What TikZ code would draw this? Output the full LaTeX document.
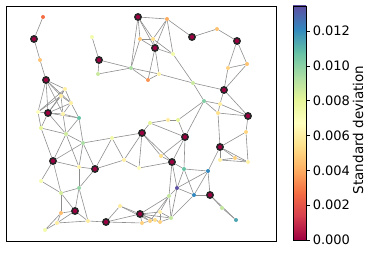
\documentclass[tikz,border=0pt]{standalone}
\usepackage{fontspec}
\setmainfont{DejaVu Sans}
\usetikzlibrary{backgrounds}
\definecolor{s0}{HTML}{9E0142}
\definecolor{s1}{HTML}{D53E4F}
\definecolor{s2}{HTML}{F46D43}
\definecolor{s3}{HTML}{FDAE61}
\definecolor{s4}{HTML}{FEE08B}
\definecolor{s5}{HTML}{FFFFBF}
\definecolor{s6}{HTML}{E6F598}
\definecolor{s7}{HTML}{ABDDA4}
\definecolor{s8}{HTML}{66C2A5}
\definecolor{s9}{HTML}{3288BD}
\definecolor{s10}{HTML}{5E4FA2}
\definecolor{linkgrey}{HTML}{8E8E8E}
\tikzset{
  every picture/.style={line width=0.6pt},
  link/.style={draw=linkgrey, line width=0.6pt},
  fixed/.style={circle, fill=s0, draw=black!85, line width=1.6pt, inner sep=0pt, minimum size=6.2pt},
  est/.style={circle, fill=#1, inner sep=0pt, minimum size=4pt},
  ticklabel/.style={font=\fontsize{13}{15}\selectfont, anchor=west, inner sep=0pt},
}
\begin{document}
\begin{tikzpicture}[x=1pt, y=-1pt]
  \useasboundingbox (0,0) rectangle (374,256);
  \draw[line width=0.8pt] (6,6) rectangle (276,241);
  % fixed nodes
  \node[fixed] (a1) at (34,39) {};   \node[fixed] (a2) at (46,80) {};
  \node[fixed] (a3) at (48,113) {};  \node[fixed] (a4) at (53,161) {};
  \node[fixed] (a5) at (95,169) {};  \node[fixed] (a6) at (75,211) {};
  \node[fixed] (a7) at (106,222) {}; \node[fixed] (a8) at (140,214) {};
  \node[fixed] (a9) at (142,133) {}; \node[fixed] (a10) at (185,137) {};
  \node[fixed] (a11) at (172,162) {};\node[fixed] (a12) at (210,195) {};
  \node[fixed] (a13) at (220,147) {};\node[fixed] (a14) at (248,116) {};
  \node[fixed] (a15) at (224,90) {}; \node[fixed] (a16) at (237,41) {};
  \node[fixed] (a17) at (192,37) {}; \node[fixed] (a18) at (155,48) {};
  \node[fixed] (a19) at (138,17) {}; \node[fixed] (a20) at (99,60) {};
  % estimated nodes
  \node[est=s2] (u1) at (43,17) {};
  \node[est=s3!60!s4] (u2) at (40,60) {};
  \node[est=s5!50!s4] (u3) at (65,89) {};
  \node[est=s4!60!s5] (u4) at (61,96) {};
  \node[est=s4!50!s5] (u5) at (71,103) {};
  \node[est=s5] (u6) at (38,112) {};
  \node[est=s4!40!s5] (u7) at (63,114) {};
  \node[est=s8] (u8) at (79,118) {};
  \node[est=s6] (u9) at (41,128) {};
  \node[est=s6!60!s7] (u10) at (66,134) {};
  \node[est=s7] (u11) at (83,143) {};
  \node[est=s5!50!s6] (u12) at (92,37) {};
  \node[est=s6!50!s7] (u13) at (98,74) {};
  \node[est=s7] (u14) at (131,68) {};
  \node[est=s2!40!s3] (u15) at (148,80) {};
  \node[est=s3!50!s4] (u16) at (140,39) {};
  \node[est=s4] (u17) at (153,39) {};
  \node[est=s3] (u18) at (167,19) {};
  \node[est=s5!50!s6] (u19) at (173,54) {};
  \node[est=s4!40!s5] (u20) at (159,74) {};
  \node[est=s3!60!s4] (u21) at (217,29) {};
  \node[est=s4!70!s3] (u22) at (228,68) {};
  \node[est=s3!60!s4] (u23) at (247,64) {};
  \node[est=s6!50!s7] (u24) at (193,83) {};
  \node[est=s7!40!s8] (u25) at (204,101) {};
  \node[est=s5!40!s4] (u26) at (220,104) {};
  \node[est=s4] (u27) at (218,113) {};
  \node[est=s6] (u28) at (150,123) {};
  \node[est=s4!60!s5] (u29) at (168,120) {};
  \node[est=s6] (u30) at (178,120) {};
  \node[est=s5!40!s6] (u31) at (112,138) {};
  \node[est=s5!50!s4] (u32) at (124,160) {};
  \node[est=s5] (u33) at (139,168) {};
  \node[est=s4] (u34) at (161,156) {};
  \node[est=s4!80!s3] (u35) at (246,132) {};
  \node[est=s4!50!s5] (u36) at (220,160) {};
  \node[est=s4!70!s3] (u37) at (235,158) {};
  \node[est=s5!60!s4] (u38) at (248,162) {};
  \node[est=s4!40!s5] (u39) at (79,167) {};
  \node[est=s5!60!s6] (u40) at (41,181) {};
  \node[est=s6!70!s7] (u41) at (61,193) {};
  \node[est=s7!70!s8] (u42) at (79,188) {};
  \node[est=s3!70!s4] (u43) at (61,213) {};
  \node[est=s4!60!s5] (u44) at (88,221) {};
  \node[est=s4!60!s5] (u45) at (57,223) {};
  \node[est=s5!50!s6] (u46) at (45,230) {};
  \node[est=s4!60!s5] (u47) at (120,206) {};
  \node[est=s4!70!s3] (u48) at (142,223) {};
  \node[est=s4!70!s3] (u49) at (150,221) {};
  \node[est=s4] (u50) at (155,220) {};
  \node[est=s4!50!s5] (u51) at (160,212) {};
  \node[est=s4!70!s3] (u52) at (160,222) {};
  \node[est=s6!40!s7] (u53) at (171,218) {};
  \node[est=s8] (u54) at (184,169) {};
  \node[est=s9] (u55) at (208,171) {};
  \node[est=s10] (u56) at (177,188) {};
  \node[est=s9] (u57) at (194,195) {};
  \node[est=s7!60!s6] (u58) at (169,196) {};
  \node[est=s7!60!s6] (u59) at (222,208) {};
  \node[est=s8!50!s9] (u60) at (236,220) {};
  % links
  \begin{scope}[on background layer]
    \foreach \i/\j in {a1/u1, a1/u2, u2/a2, a2/u3, a2/u4, a2/u5, a2/u6, a2/a3, a2/u7,
      u3/u4, u3/u5, u4/u5, u3/u6, u4/u6, a3/u3, a3/u4, a3/u5, a3/u6, a3/u7, a3/u8,
      u7/u8, u5/u8, u5/u7, u4/u7, u6/u9, a3/u9, a3/u10, u7/u10, u8/u10, u8/u11,
      u10/u11, u9/u10, u9/a4, u10/a4, u11/a4, u11/u31, u10/u39, u11/u39, u11/a5,
      a4/u39, a4/u40, a4/u41, u39/a5, u39/u42, a5/u42, u31/a5, u31/u32, u31/a9,
      u32/a5, u32/a9, u32/u33, a9/u33, u40/u41, u41/u42, u41/a6, u41/u43, u42/a6,
      u42/u44, a6/u43, a6/u44, a6/u45, u43/u45, u43/u46, u45/u46, u45/u44,
      a7/u44, a7/u47, a7/a8, a7/u48, u47/a8, u47/u49, a8/u48, a8/u49, a8/u50,
      a8/u51, a8/u52, a8/u58, a8/u53, u48/u49, u49/u50, u50/u52, u51/u52,
      u51/u58, u49/u58, u52/u53, u51/u53, u58/u53, u58/u56, u56/u53, u56/u57,
      u57/u53, u57/a12, u55/u57, u55/a12, u55/u54, u55/a13, u55/u56, u54/u56,
      u54/u57, a11/u54, a11/u58, a11/u56, a11/u34, a11/a10, a10/u34, a10/u54,
      a9/u34, a9/a11, u33/a11, a12/u59, u59/u60, a12/u60, a9/u28, u28/u29,
      u29/u30, u30/a10, u28/a10, a10/u25, u30/u25, u25/u24, u25/u26, u25/u27,
      u24/a15, u26/a15, u26/a14, u27/a14, a15/a14, u27/a13, u26/u27,
      a14/u35, u35/a13, u35/u38, a13/u36, a13/u37, a13/u38, u36/u37, u37/u38,
      u36/u38, u22/a15, u23/a15, u22/u23, a16/u22, a16/u23, a16/u21, u21/a17,
      a17/u18, u18/a19, u18/u17, u18/a18, u18/u19, a19/u16, a19/u17, a19/a18,
      a19/u14, u16/u17, u16/a18, u17/a18, u17/u19, a18/u19, a18/u20, a18/u15,
      u16/u14, u19/u24, u20/u15, u20/u24, u20/u14, u14/u15, u14/a20, u14/u13,
      u13/a20, u12/a20}
      \draw[link] (\i) -- (\j);
  \end{scope}
  % colour bar
  \foreach \k [evaluate=\k as \nk using int(\k+1)] in {0,...,9}
    \shade[bottom color=s\k, top color=s\nk] (293,{240-23.4*\k+0.2}) rectangle (306,{240-23.4*(\k+1)-0.2});
  \node[draw, line width=0.6pt, inner sep=0pt, minimum width=13pt, minimum height=234pt] (cbar) at (299.5,123) {};
  \foreach \v [count=\k from 0] in {0.000,0.002,0.004,0.006,0.008,0.010,0.012}
    \draw[line width=0.6pt] (306,{240-34.8*\k}) -- ++(4,0) node[ticklabel, xshift=2.5pt] {\v};
  \node[rotate=90, font=\fontsize{13.5}{15}\selectfont] (label) at (358,130) {Standard deviation};
\end{tikzpicture}
\end{document}
